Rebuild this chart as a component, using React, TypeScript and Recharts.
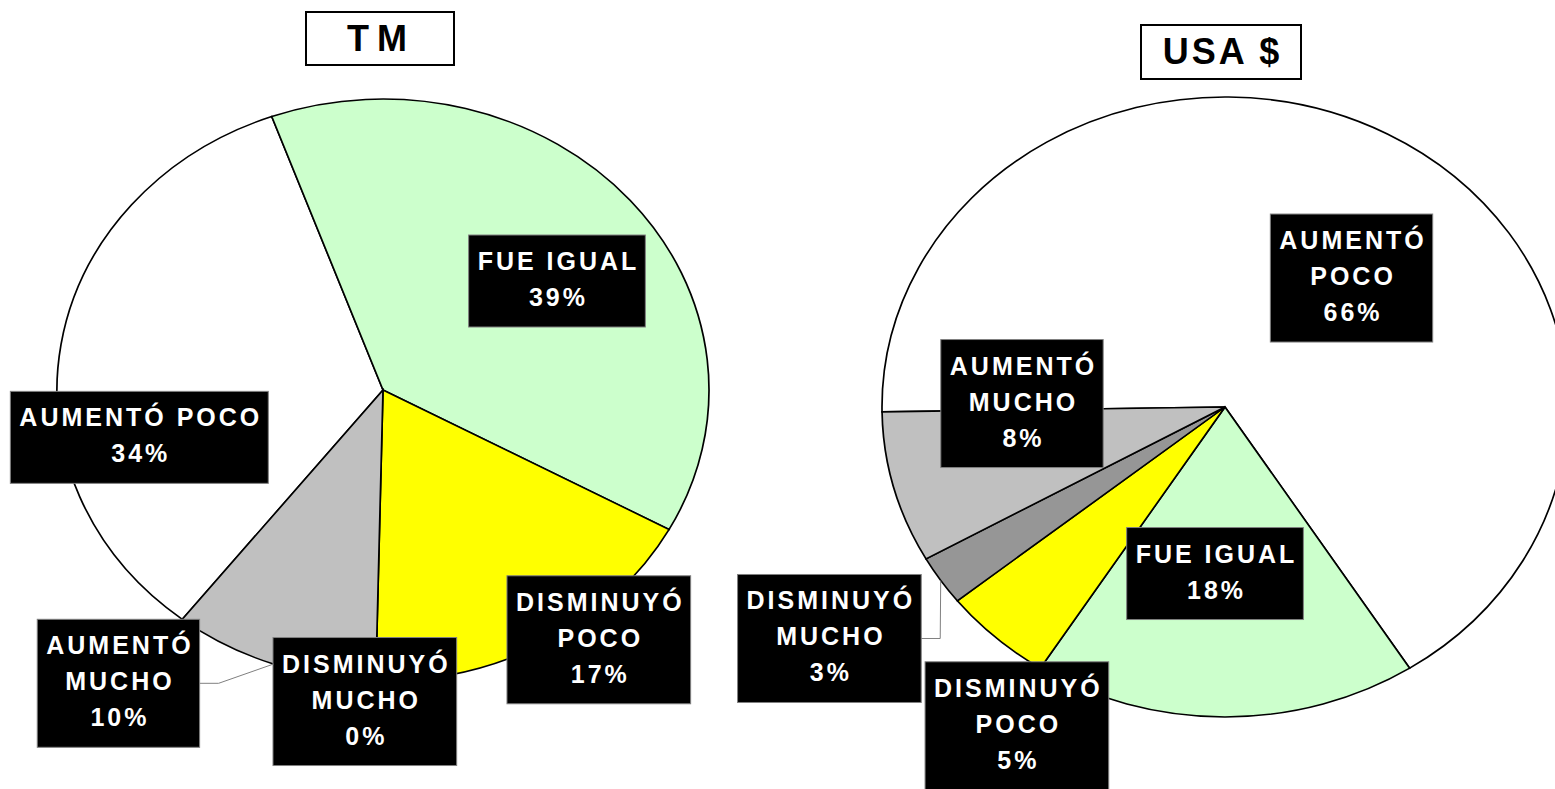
import React from 'react';
import { PieChart, Pie, Cell } from 'recharts';

// ---------- data ----------
const categories = ['AUMENTÓ POCO', 'FUE IGUAL', 'DISMINUYÓ POCO', 'DISMINUYÓ MUCHO', 'AUMENTÓ MUCHO'];
const tmValues = [33.9, 38.5, 17.4, 0, 10.2];
const usdValues = [66.2, 18.1, 5.2, 2.6, 7.9];
const titles = ['TM', 'USA $'];

// ---------- styles / layout ----------
const sliceColors = ['#FFFFFF', '#CCFFCC', '#FFFF00', '#969696', '#C0C0C0'];
const FONT = '"Liberation Sans", Arial, Helvetica, sans-serif';
const LABEL_SIZE = 25;
const LETTER = 3;
const LINE_H = 36;
const PAD = 9;

const tmGeom = { cx: 383, cy: 390, r: 326, ratio: 291 / 326, start: -128.0 };
const usdGeom = { cx: 1225, cy: 407, r: 343, ratio: 310 / 343, start: -179.1 };

const tmLabelLayout = [
  { r: 0.765, shift: -21.3, wrap: false, leader: false },
  { r: 0.652, shift: 5.6, wrap: false, leader: false },
  { r: 1.084, shift: -7.6, wrap: true, leader: false },
  { r: 1.072, shift: 1.7, wrap: true, leader: false },
  { r: 1.294, shift: 19.2, wrap: true, leader: true },
];
const usdLabelLayout = [
  { r: 0.556, shift: 13.3, wrap: true, leader: false },
  { r: 0.538, shift: 3.1, wrap: false, leader: false },
  { r: 1.194, shift: -11.4, wrap: true, leader: false },
  { r: 1.374, shift: 1.1, wrap: true, leader: true },
  { r: 0.592, shift: 16.2, wrap: true, leader: false },
];

const tmData = categories.map((name, i) => ({ name, value: tmValues[i] }));
const usdData = categories.map((name, i) => ({ name, value: usdValues[i] }));

let ctx: CanvasRenderingContext2D | null = null;
function textWidth(s: string): number {
  if (!ctx && typeof document !== 'undefined') {
    ctx = document.createElement('canvas').getContext('2d');
  }
  if (!ctx) return s.length * LABEL_SIZE * 0.7;
  ctx.font = `bold ${LABEL_SIZE}px ${FONT}`;
  return ctx.measureText(s).width + LETTER * (s.length - 1);
}

const RAD = Math.PI / 180;

const makeLabel = (layout: any[], ratio: number) => (props: any) => {
  const { cx, cy, outerRadius, midAngle, index, value } = props;
  const L = layout[index];
  if (!L) return null;
  const name: string = (props.payload && props.payload.name) || categories[index];
  const thMid = (90 - midAngle) * RAD;
  const th = thMid + L.shift * RAD;
  const x = cx + L.r * outerRadius * Math.sin(th);
  const y = cy - L.r * outerRadius * ratio * Math.cos(th);
  const lines: string[] = L.wrap ? name.split(' ') : [name];
  lines.push(`${Math.round(value)}%`);
  const w = Math.max(...lines.map(textWidth)) + 2 * PAD;
  const h = lines.length * LINE_H + 20;
  const left = x - w / 2;
  const top = y - h / 2;
  let leader = null;
  if (L.leader) {
    const ax = cx + outerRadius * Math.sin(thMid);
    const ay = cy - outerRadius * ratio * Math.cos(thMid);
    const bx = left + w;
    leader = (
      <polyline
        points={`${bx},${y} ${bx + 19},${y} ${ax},${ay}`}
        fill="none"
        stroke="#808080"
        strokeWidth={1}
      />
    );
  }
  return (
    <g key={`lbl-${index}`}>
      {leader}
      <rect x={left} y={top} width={w} height={h} fill="#000" stroke="#808080" strokeWidth={1} />
      {lines.map((ln, i) => (
        <text
          key={i}
          x={x + LETTER / 2}
          y={top + 35 + i * LINE_H}
          textAnchor="middle"
          fill="#fff"
          fontFamily={FONT}
          fontWeight="bold"
          fontSize={LABEL_SIZE}
          style={{ letterSpacing: `${LETTER}px` }}
        >
          {ln}
        </text>
      ))}
    </g>
  );
};

const css = `
.pie-tm .recharts-sector { transform-box: view-box; transform-origin: ${tmGeom.cx}px ${tmGeom.cy}px; transform: scaleY(${tmGeom.ratio}); }
.pie-usd .recharts-sector { transform-box: view-box; transform-origin: ${usdGeom.cx}px ${usdGeom.cy}px; transform: scaleY(${usdGeom.ratio}); }
`;

const titleStyle: React.CSSProperties = {
  position: 'absolute',
  boxSizing: 'border-box',
  border: '2px solid #000',
  background: '#fff',
  display: 'flex',
  alignItems: 'center',
  justifyContent: 'center',
  fontFamily: FONT,
  fontWeight: 'bold',
  fontSize: 36,
  color: '#000',
};

export default function App() {
  return (
    <div style={{ position: 'absolute', left: 0, top: 0, width: 1555, height: 789, overflow: 'hidden', background: '#fff' }}>
      <style>{css}</style>
      <PieChart width={1555} height={789} margin={{ top: 0, right: 0, bottom: 0, left: 0 }}>
        <Pie
          className="pie-tm"
          data={tmData}
          dataKey="value"
          nameKey="name"
          cx={tmGeom.cx}
          cy={tmGeom.cy}
          outerRadius={tmGeom.r}
          startAngle={tmGeom.start}
          endAngle={tmGeom.start - 360}
          stroke="#000"
          strokeWidth={1.7}
          isAnimationActive={false}
          labelLine={false}
          label={makeLabel(tmLabelLayout, tmGeom.ratio)}
        >
          {tmData.map((d, i) => (
            <Cell key={d.name} fill={sliceColors[i]} stroke="#000" strokeWidth={1.7} />
          ))}
        </Pie>
        <Pie
          className="pie-usd"
          data={usdData}
          dataKey="value"
          nameKey="name"
          cx={usdGeom.cx}
          cy={usdGeom.cy}
          outerRadius={usdGeom.r}
          startAngle={usdGeom.start}
          endAngle={usdGeom.start - 360}
          stroke="#000"
          strokeWidth={1.7}
          isAnimationActive={false}
          labelLine={false}
          label={makeLabel(usdLabelLayout, usdGeom.ratio)}
        >
          {usdData.map((d, i) => (
            <Cell key={d.name} fill={sliceColors[i]} stroke="#000" strokeWidth={1.7} />
          ))}
        </Pie>
      </PieChart>
      <div style={{ ...titleStyle, left: 305, top: 11, width: 150, height: 55, letterSpacing: 8, paddingLeft: 2 }}>{titles[0]}</div>
      <div style={{ ...titleStyle, left: 1140, top: 24, width: 162, height: 56, letterSpacing: 3, paddingLeft: 3 }}>{titles[1]}</div>
    </div>
  );
}
